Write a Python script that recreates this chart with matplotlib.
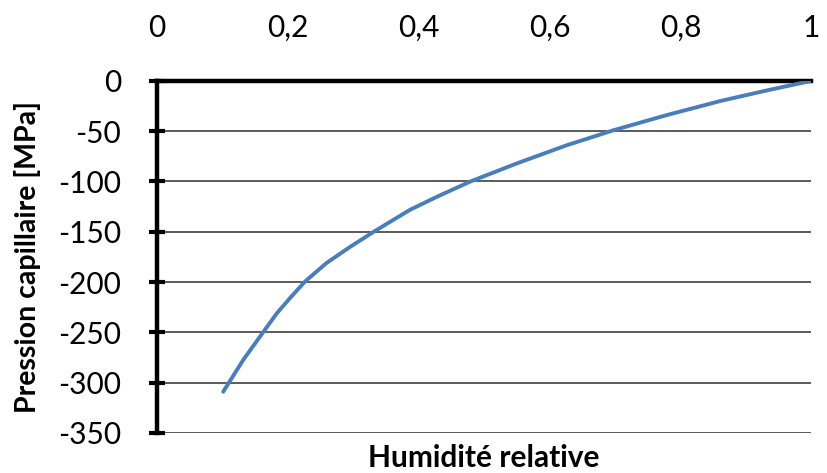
import matplotlib
matplotlib.use('Agg')
import matplotlib.pyplot as plt

plt.rcParams['font.family'] = ['Lato', 'DejaVu Sans']

# valeurs
humidite = [0.101, 0.132, 0.163, 0.183, 0.203, 0.226, 0.259, 0.295, 0.331, 0.387,
            0.430, 0.479, 0.550, 0.626, 0.698, 0.779, 0.861, 0.932, 1.000]
pression = [-309, -277, -249, -231, -216, -199.5, -181, -165, -150, -128,
            -114.5, -100, -82, -64, -49, -34, -20, -9.5, 0]

xticks = [0, 0.2, 0.4, 0.6, 0.8, 1.0]
xlabels = ['0', '0,2', '0,4', '0,6', '0,8', '1']
yticks = [0, -50, -100, -150, -200, -250, -300, -350]
ylabels = ['0', '-50', '-100', '-150', '-200', '-250', '-300', '-350']

fig = plt.figure(figsize=(8.27, 4.73), dpi=100)
ax = fig.add_axes([0.19, 0.0846, 0.791, 0.7444])

ax.plot(humidite, pression, color='#4A7EBB', lw=2.8, solid_capstyle='round',
        solid_joinstyle='round', zorder=3)

ax.set_xlim(0, 1)
ax.set_ylim(-350, 0)
ax.xaxis.tick_top()
ax.set_xticks(xticks)
ax.set_xticklabels(xlabels)
ax.set_yticks(yticks)
ax.set_yticklabels(ylabels)
ax.tick_params(axis='x', length=0, pad=28, labelsize=21.5)
ax.tick_params(axis='y', direction='inout', length=12, width=3, pad=20, labelsize=21.5)

ax.grid(axis='y', color='#404040', lw=1.2)
ax.set_axisbelow(True)
for s in ['bottom', 'right']:
    ax.spines[s].set_visible(False)
for s in ['top', 'left']:
    ax.spines[s].set_linewidth(3.2)
    ax.spines[s].set_color('black')

ax.set_ylabel('Pression capillaire [MPa]', fontsize=20.5, fontweight='bold')
ax.yaxis.set_label_coords(-0.177, 0.5)
fig.text(0.585, 0.032, 'Humidité relative', fontsize=21.5, fontweight='bold',
         ha='center', va='center')

fig.savefig('out.png', dpi=100)
